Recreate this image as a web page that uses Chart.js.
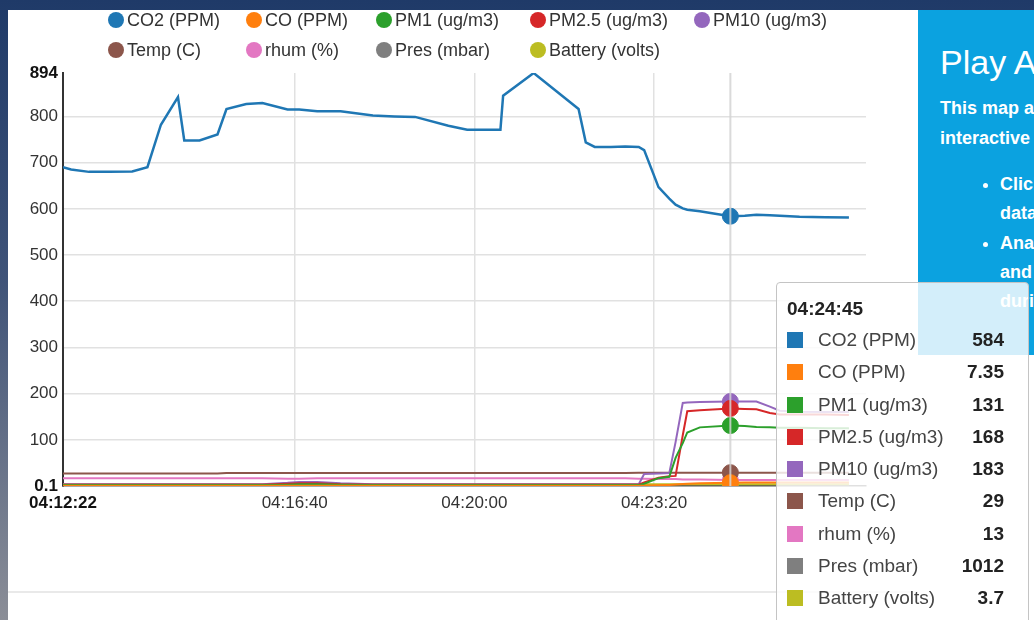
<!DOCTYPE html>
<html lang="en">
<head>
<meta charset="UTF-8">
<title>Sensor readings</title>
<script src="https://cdn.jsdelivr.net/npm/chart.js"></script>
<style>
  html, body { margin: 0; padding: 0; }
  body {
    width: 1034px; height: 620px; overflow: hidden; position: relative;
    background: linear-gradient(to bottom, #1f3a68 0%, #3f5378 45%, #8b8e97 100%);
    font-family: "Liberation Sans", Arial, sans-serif;
  }
  #card { position: absolute; left: 8px; top: 10px; right: 0; bottom: 0; background: #fff; }
  #rule { position: absolute; left: 8px; top: 591px; width: 910px; height: 2px; background: #e9e9e9; }
  #panel {
    position: absolute; left: 918px; top: 10px; width: 200px; height: 345px;
    background: #0ba2e0; color: #fff; overflow: hidden; white-space: nowrap;
  }
  #panel h2 { position: absolute; left: 22px; top: 32px; margin: 0; font-size: 34px; font-weight: normal; line-height: 40px; }
  #panel p { position: absolute; left: 22px; top: 83px; margin: 0; font-size: 18px; font-weight: bold; line-height: 30px; }
  #panel ul { position: absolute; left: 22px; top: 160px; margin: 0; padding-left: 60px; font-size: 18px; font-weight: bold; line-height: 29.3px; }
  canvas { position: absolute; left: 0; top: 0; }
  #legend {
    position: absolute; left: 108px; top: 5px;
    display: grid; grid-template-columns: 138px 130px 154px 164px auto;
    font-size: 18px; color: #333;
  }
  #legend div { height: 30px; display: flex; align-items: center; }
  #legend span { display: inline-block; width: 16px; height: 16px; border-radius: 50%; margin-right: 3px; }
  #tip {
    position: absolute; top: 282px; left: 778px; width: 253px; height: 360px;
    box-sizing: border-box; padding: 14px 24px 0 10px;
    background: rgba(255, 255, 255, 0.82); border: 1px solid #c4c4c4; border-radius: 4px;
    font-size: 19px; color: #444; display: none;
  }
  #tip .tt { font-weight: bold; color: #222; line-height: 24px; margin-bottom: 3px; }
  #tip table { border-collapse: collapse; width: 100%; }
  #tip td { height: 32.25px; padding: 0; }
  #tip td.sq { width: 31px; }
  #tip td.sq span { display: block; width: 16px; height: 16px; }
  #tip td.vl { text-align: right; font-weight: bold; color: #222; }
</style>
</head>
<body>
<div id="card"></div>
<div id="rule"></div>
<div id="panel">
  <h2>Play Around</h2>
  <p>This map allows an<br>interactive look at</p>
  <ul>
    <li>Click a sensor to see<br>data over time</li>
    <li>Analyse CO2, PM<br>and temperature<br>during a session</li>
  </ul>
</div>
<canvas id="myChart" width="1034" height="620"></canvas>
<div id="legend"></div>
<div id="tip"></div>
<script>
const times = ['04:12:22','04:12:31','04:12:51','04:13:13','04:13:39','04:13:56','04:14:11','04:14:30',
  '04:14:37','04:14:54','04:15:14','04:15:24','04:15:46','04:16:04','04:16:32','04:16:45','04:17:05',
  '04:17:31','04:18:07','04:18:31','04:18:54','04:19:31','04:19:52','04:20:29','04:20:32','04:21:06',
  '04:21:56','04:22:04','04:22:14','04:22:32','04:22:48','04:23:03','04:23:09','04:23:25','04:23:37',
  '04:23:44','04:23:52','04:23:57','04:24:11','04:24:45','04:25:01','04:25:14','04:25:29','04:25:40',
  '04:26:02','04:26:31','04:26:57'];

const co2 = [690,685,680,680,681,690,782,842,748,748,761,816,827,829,815,815,811,811,802,800,799,780,771,771,
  845,894,816,744,734,734,735,734,727,647,622,609,601,598,595,584,585,587,586,585,583,582,581];
const co = [0.5,0.5,0.5,0.6,0.5,0.5,0.5,0.6,0.6,0.5,0.5,0.5,0.6,0.6,0.7,0.7,0.6,0.6,0.5,0.5,0.5,0.5,0.5,0.5,
  0.5,0.5,0.6,0.6,0.6,0.6,0.6,0.6,0.8,1.5,2.4,3.1,4.2,5.0,6.3,7.35,7.5,7.6,7.6,7.7,7.7,7.8,7.8];
const pm1 = [2,2,2,2,2,2,2,2,2,2,2,2,2,2,3,4,4,3,2,2,2,2,2,2,
  2,2,2,2,2,2,2,2,5,17,20,61,93,116,127,131,130,128,127,126,126,125,125];
const pm25 = [3,3,3,3,3,3,3,3,3,3,3,3,3,3,5,6,6,4,3,3,3,3,3,3,
  3,3,3,3,3,3,3,3,8,18,21,22,110,162,164,168,167,166,158,155,155,155,154];
const pm10 = [4,4,4,4,4,4,4,4,4,4,4,4,4,4,7,9,9,6,4,4,4,4,4,4,
  4,4,4,4,4,4,4,4,26,27,28,95,180,181,182,183,183,183,172,163,161,160,160];
const temp = [27,27,27,27,27,27,27,27,27,27,27,28,28,28,28,28,28,28,28,28,28,28,28,28,
  28,28,28,28,28,28,28,29,29,29,29,29,29,29,29,29,29,29,29,29,29,29,29];
const rhum = [17,17,17,17,17,17,17,17,17,17,17,17,17,17,16,16,17,17,17,17,17,17,17,17,
  17,17,17,17,17,17,17,16,16,15,15,15,14,14,14,13,13,13,13,13,13,13,13];
const pres = [1012,1012,1012,1012,1012,1012,1012,1012,1012,1012,1012,1012,1012,1012,1012,1012,1012,1012,1012,1012,1012,1012,1012,1012,
  1012,1012,1012,1012,1012,1012,1012,1012,1012,1012,1012,1012,1012,1012,1012,1012,1012,1012,1012,1012,1012,1012,1012];
const battery = [3.7,3.7,3.7,3.7,3.7,3.7,3.7,3.7,3.7,3.7,3.7,3.7,3.7,3.7,3.7,3.7,3.7,3.7,3.7,3.7,3.7,3.7,3.7,3.7,
  3.7,3.7,3.7,3.7,3.7,3.7,3.7,3.7,3.7,3.7,3.7,3.7,3.7,3.7,3.7,3.7,3.7,3.7,3.7,3.7,3.7,3.7,3.7];

const names = ['CO2 (PPM)','CO (PPM)','PM1 (ug/m3)','PM2.5 (ug/m3)','PM10 (ug/m3)','Temp (C)','rhum (%)','Pres (mbar)','Battery (volts)'];
const colors = ['#1f77b4','#ff7f0e','#2ca02c','#d62728','#9467bd','#8c564b','#e377c2','#7f7f7f','#bcbd22'];
const series = [co2, co, pm1, pm25, pm10, temp, rhum, pres, battery];

const xTicks = ['04:12:22','04:16:40','04:20:00','04:23:20'];
const yTicks = [0.1,100,200,300,400,500,600,700,800,894];
const hoverTime = '04:24:45';

const toSec = s => s.split(':').reduce((a, v) => a * 60 + Number(v), 0);
const fmt = sec => [Math.floor(sec / 3600), Math.floor(sec / 60) % 60, sec % 60]
  .map(n => String(n).padStart(2, '0')).join(':');

Chart.defaults.font.family = '"Liberation Sans", Arial, sans-serif';
Chart.defaults.color = '#333';

const xMin = toSec(xTicks[0]);
const hoverIdx = times.indexOf(hoverTime);

// draws the light vertical hover line over the datasets
const crosshair = {
  id: 'crosshair',
  afterDatasetsDraw(chart) {
    const act = chart.tooltip.getActiveElements();
    if (!act.length) return;
    const x = act[0].element.x;
    const ctx = chart.ctx;
    ctx.save();
    ctx.strokeStyle = 'rgba(212,212,212,0.85)';
    ctx.lineWidth = 2;
    ctx.beginPath();
    ctx.moveTo(x, chart.chartArea.top);
    ctx.lineTo(x, chart.chartArea.bottom);
    ctx.stroke();
    ctx.restore();
  }
};

// html legend laid out in columns
const htmlLegend = {
  id: 'htmlLegend',
  afterUpdate(chart) {
    const box = document.getElementById('legend');
    const items = chart.options.plugins.legend.labels.generateLabels(chart);
    box.innerHTML = items.map(it =>
      `<div><span style="background:${it.fillStyle}"></span>${it.text}</div>`).join('');
  }
};

function externalTip({chart, tooltip}) {
  const el = document.getElementById('tip');
  if (tooltip.opacity === 0) { el.style.display = 'none'; return; }
  const pts = tooltip.dataPoints.slice().sort((a, b) => a.datasetIndex - b.datasetIndex);
  let html = '<div class="tt">' + fmt(pts[0].parsed.x) + '</div><table>';
  pts.forEach(p => {
    html += `<tr><td class="sq"><span style="background:${p.dataset.borderColor}"></span></td>` +
      `<td>${p.dataset.label}</td><td class="vl">${p.parsed.y}</td></tr>`;
  });
  el.innerHTML = html + '</table>';
  el.style.left = Math.round(tooltip.caretX + 46) + 'px';
  el.style.display = 'block';
}

const ctx = document.getElementById('myChart').getContext('2d');
const chart = new Chart(ctx, {
  type: 'line',
  data: {
    datasets: series.map((vals, i) => ({
      label: names[i],
      data: times.map((t, j) => ({x: toSec(t), y: vals[j]})),
      borderColor: colors[i],
      backgroundColor: colors[i],
      borderWidth: i === 0 ? 2.5 : 2,
      pointRadius: 0,
      pointHoverRadius: 8,
      pointHoverBorderWidth: 1,
      pointHoverBackgroundColor: colors[i],
      pointHoverBorderColor: colors[i],
      tension: 0,
      fill: false
    }))
  },
  options: {
    responsive: false,
    animation: false,
    events: [],
    layout: { padding: { left: 8, top: 73, right: 168, bottom: 94 } },
    interaction: { mode: 'index', intersect: false },
    plugins: {
      legend: { display: false },
      tooltip: { enabled: false, external: externalTip }
    },
    scales: {
      x: {
        type: 'linear',
        min: xMin,
        max: xMin + 894,
        afterBuildTicks: s => { s.ticks = xTicks.map(t => ({value: toSec(t)})); },
        afterFit: s => { s.height = 40; },
        ticks: {
          autoSkip: false,
          maxRotation: 0,
          padding: 7,
          callback: v => fmt(v),
          color: c => c.index === 0 ? '#111' : '#333',
          font: c => ({size: 17, weight: c.index === 0 ? 'bold' : 'normal'})
        },
        grid: {
          drawTicks: false,
          lineWidth: 1.5,
          color: c => c.index === 0 ? 'rgba(0,0,0,0)' : '#e1e1e1'
        },
        border: { color: '#555', width: 1.5 }
      },
      y: {
        min: 0.1,
        max: 894,
        afterBuildTicks: s => { s.ticks = yTicks.map(v => ({value: v})); },
        afterFit: s => { s.width = 55; },
        ticks: {
          padding: 5,
          callback: v => String(v),
          color: c => (c.index === 0 || c.index === yTicks.length - 1) ? '#111' : '#333',
          font: c => ({size: 17, weight: (c.index === 0 || c.index === yTicks.length - 1) ? 'bold' : 'normal'})
        },
        grid: {
          drawTicks: false,
          lineWidth: 1.5,
          color: c => (c.index === 0 || c.index === yTicks.length - 1) ? 'rgba(0,0,0,0)' : '#e1e1e1'
        },
        border: { color: '#333', width: 2 }
      }
    }
  },
  plugins: [crosshair, htmlLegend]
});

const active = series.map((s, i) => ({datasetIndex: i, index: hoverIdx}));
const area = chart.chartArea;
chart.tooltip.setActiveElements(active, {x: (area.left + area.right) / 2, y: (area.top + area.bottom) / 2});
chart.setActiveElements(active);
chart.update();
</script>
</body>
</html>
